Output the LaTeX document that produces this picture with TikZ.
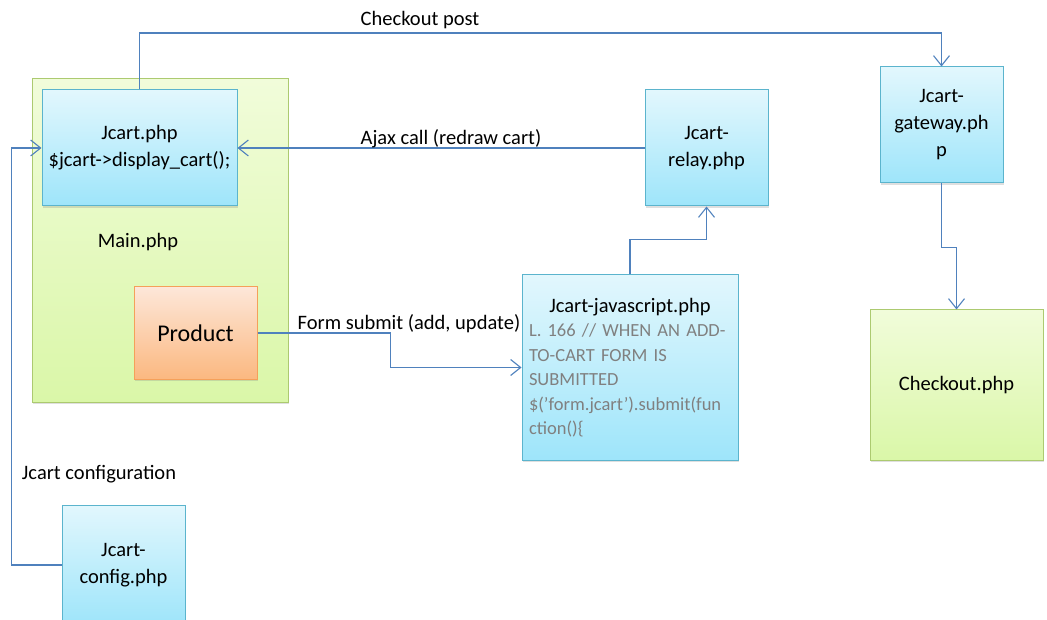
\documentclass[tikz,border=0pt]{standalone}
\usepackage{fontspec}
\setmainfont{Carlito}
\usetikzlibrary{arrows.meta,shadows}

\definecolor{linkblue}{RGB}{79,129,189}
\definecolor{bluetop}{RGB}{226,247,253}
\definecolor{bluebot}{RGB}{158,229,250}
\definecolor{blueline}{RGB}{91,180,205}
\definecolor{greentop}{RGB}{241,252,218}
\definecolor{greenbot}{RGB}{218,247,168}
\definecolor{greenline}{RGB}{172,202,112}
\definecolor{orangetop}{RGB}{253,231,217}
\definecolor{orangebot}{RGB}{251,184,128}
\definecolor{orangeline}{RGB}{245,160,90}
\definecolor{commentgray}{RGB}{128,128,128}

\frenchspacing

\begin{document}
\begin{tikzpicture}[x=1pt,y=-1pt,
  font=\fontsize{20.5}{27}\selectfont,
  box/.style={rectangle,draw=blueline,line width=1pt,top color=bluetop,bottom color=bluebot,
    drop shadow={shadow xshift=1pt,shadow yshift=-2pt,opacity=0.25},align=center,inner sep=2pt},
  greenbox/.style={box,draw=greenline,top color=greentop,bottom color=greenbot},
  orangebox/.style={box,draw=orangeline,top color=orangetop,bottom color=orangebot},
  link/.style={draw=linkblue,line width=1.1pt,-{Straight Barb[length=10pt,width=16pt]}}]

\useasboundingbox (0,0) rectangle (1047,620);

\node[greenbox,minimum width=256pt,minimum height=323pt] (main) at (160,240.5) {};
\node (mainlbl) at (138,242) {Main.php};

\node[box,minimum width=195pt,minimum height=116pt] (jcart) at (139.5,148) {Jcart.php\\\$jcart->display\_cart();};
\node[orangebox,minimum width=123pt,minimum height=92pt,font=\fontsize{24}{28}\selectfont] (product) at (195.5,333) {Product};

\node[box,minimum width=123pt,minimum height=116pt] (relay) at (706.5,148) {Jcart-\\relay.php};
\node[box,minimum width=123pt,minimum height=116pt] (gateway) at (941.5,125) {Jcart-\\gateway.ph\\p};
\node[greenbox,minimum width=173pt,minimum height=150pt] (checkout) at (956.5,385) {Checkout.php};

\node[box,minimum width=216pt,minimum height=185pt,text width=202pt,align=left,inner sep=7pt,
  font=\fontsize{18.5}{24.5}\selectfont] (js) at (630,367.5)
  {\makebox[202pt]{\fontsize{20.5}{24.5}\selectfont Jcart-javascript.php}\par\color{commentgray}%
   \mbox{L. 166 // WHEN AN ADD-}\\\mbox{TO-CART FORM IS}\\SUBMITTED\\\mbox{\$('form.jcart').submit(fun}\\ction()\{};

\node[box,minimum width=123pt,minimum height=120pt] (config) at (123.5,565) {Jcart-\\config.php};

\coordinate (postcorner) at (941.5,33);
\draw[link] (jcart.north) |- (postcorner) -- (gateway.north);
\node (postlbl) at (420,20) {Checkout post};

\draw[link] (relay.west) -- (jcart.east);
\node (ajaxlbl) at (451,139) {Ajax call (redraw cart)};

\draw[link] (product.east) -- ++(133,0) |- (js.west);
\node (formlbl) at (409,324) {Form submit (add, update)};

\draw[link] (js.north) -- ++(0,-35) -| (relay.south);
\draw[link] (gateway.south) -- ++(0,64) -| (checkout.north);

\draw[link] (config.west) -- ++(-50,0) |- (jcart.west);
\node (configlbl) at (99,474) {Jcart configuration};

\end{tikzpicture}
\end{document}
